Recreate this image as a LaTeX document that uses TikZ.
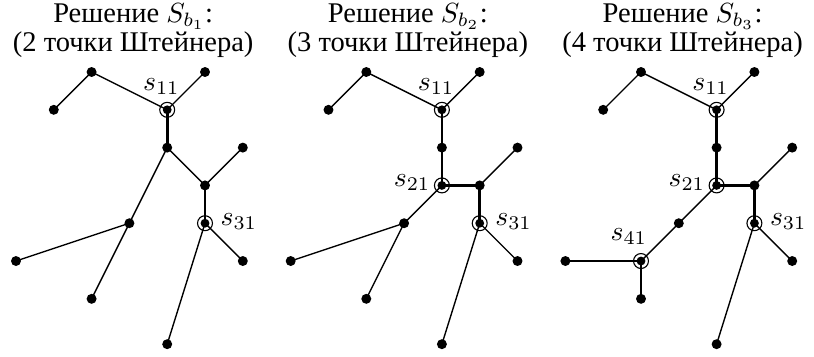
\documentclass[tikz,border=0pt]{standalone}
\usepackage{fontspec}
\setmainfont{Liberation Serif}
\begin{document}
\begin{tikzpicture}[x=0.48cm, y=-0.48cm, line join=round, line cap=round,
    edge/.style={line width=0.5pt},
    fat/.style={line width=1pt},
    ring/.style={line width=0.4pt},
    heading/.style={inner sep=0pt, anchor=base, font=\fontsize{10.3}{13}\selectfont}]
\useasboundingbox (-0.423,-1.905) rectangle (21.11,7.513);
% terminals, titles and the edges that all three solutions share
\foreach \k in {1,2,3} {
  \begin{scope}[xshift={(\k-1)*3.488cm}]
    \path
    (1,1) coordinate (A\k)
    (2,0) coordinate (B\k)
    (5,0) coordinate (C\k)
    (4,1) coordinate (s1\k)
    (4,2) coordinate (D\k)
    (6,2) coordinate (E\k)
    (5,3) coordinate (F\k)
    (5,4) coordinate (s3\k)
    (3,4) coordinate (G\k)
    (0,5) coordinate (H\k)
    (2,6) coordinate (I\k)
    (6,5) coordinate (J\k)
    (4,7.2) coordinate (K\k)
    ;
    \pgfmathtruncatemacro\cnt{\k+1}
    \node[heading, text depth=0.5pt] (head\k) at (3.1,-1.31) {Решение $S_{b_\k}$:};
    \node[heading, text height=6pt] (count\k) at (3.1,-0.55) {(\cnt\ точки Штейнера)};
    \draw[edge] (A\k)--(B\k)--(s1\k)--(C\k) (E\k)--(F\k) (J\k)--(s3\k)--(K\k);
    \draw[fat] (s1\k)--(D\k) (F\k)--(s3\k);
  \end{scope}
}
% solution 1
\draw[edge] (D1)--(F1) (D1)--(G1) (H1)--(G1)--(I1);
% solution 2
\path (D2) ++(0,1) coordinate (s22);
\draw[fat] (D2)--(s22)--(F2);
\draw[edge] (s22)--(G2) (H2)--(G2)--(I2);
% solution 3
\path (D3) ++(0,1) coordinate (s23) (H3) ++(2,0) coordinate (s43);
\draw[fat] (D3)--(s23)--(F3) (H3)--(s43)--(I3);
\draw[edge] (s23)--(G3)--(s43);
\foreach \k in {1,2,3}
  \foreach \x in {A,B,C,D,E,F,G,H,I,J,K}
    \fill (\x\k) circle (1.8pt);
% Steiner points
\foreach \p/\ang/\dist/\txt in {s11/104/0.31cm/11, s31/3/0.43cm/31,
    s12/104/0.31cm/11, s22/174/0.38cm/21, s32/3/0.43cm/31,
    s13/104/0.31cm/11, s23/174/0.38cm/21, s33/3/0.43cm/31, s43/116/0.35cm/41} {
  \fill (\p) circle (1.6pt);
  \draw[ring] (\p) circle (2.7pt);
  \path (\p) +(\ang:\dist) node (lab\p) {$s_{\txt}$};
}
\end{tikzpicture}
\end{document}
